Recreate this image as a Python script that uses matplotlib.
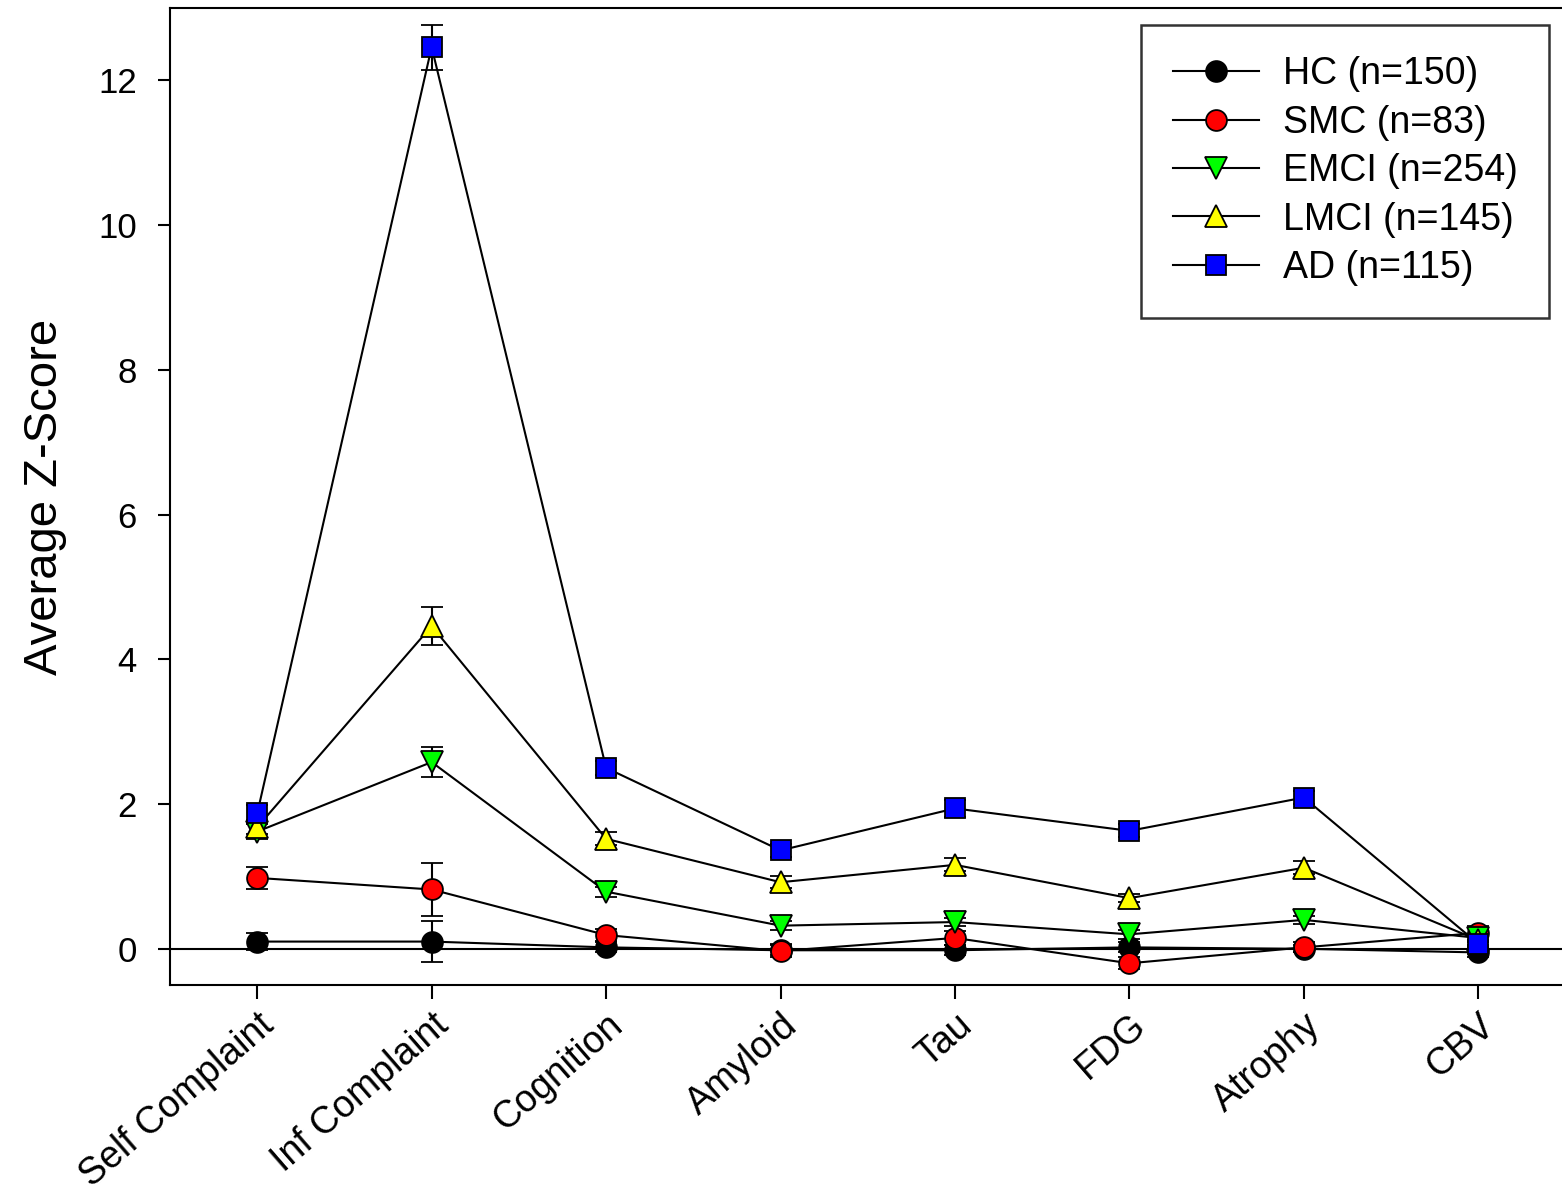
import numpy as np
import matplotlib.pyplot as plt
import matplotlib.transforms as mtransforms
from matplotlib.lines import Line2D

plt.rcParams['font.family'] = ['Liberation Sans', 'DejaVu Sans']

# --- data ---
categories = ["Self Complaint", "Inf Complaint", "Cognition", "Amyloid",
              "Tau", "FDG", "Atrophy", "CBV"]

groups = ["HC (n=150)", "SMC (n=83)", "EMCI (n=254)", "LMCI (n=145)", "AD (n=115)"]

hc_mean = [0.10, 0.10, 0.02, -0.02, -0.02, 0.02, 0.00, -0.05]
smc_mean = [0.98, 0.82, 0.19, -0.03, 0.15, -0.20, 0.02, 0.22]
emci_mean = [1.62, 2.58, 0.79, 0.32, 0.37, 0.20, 0.40, 0.15]
lmci_mean = [1.68, 4.46, 1.52, 0.92, 1.16, 0.70, 1.12, 0.12]
ad_mean = [1.87, 12.46, 2.50, 1.36, 1.94, 1.63, 2.09, 0.07]

hc_err = [0.12, 0.28, 0.07, 0.07, 0.07, 0.07, 0.05, 0.07]
smc_err = [0.15, 0.36, 0.08, 0.09, 0.10, 0.08, 0.07, 0.10]
emci_err = [0.10, 0.21, 0.07, 0.06, 0.06, 0.06, 0.06, 0.06]
lmci_err = [0.10, 0.26, 0.09, 0.08, 0.09, 0.06, 0.09, 0.07]
ad_err = [0.12, 0.31, 0.10, 0.09, 0.12, 0.09, 0.09, 0.10]

means = [hc_mean, smc_mean, emci_mean, lmci_mean, ad_mean]
errs = [hc_err, smc_err, emci_err, lmci_err, ad_err]
colors = ["#000000", "#ff0000", "#00ff00", "#ffff00", "#0000ff"]
markers = ["o", "o", "v", "^", "s"]
msizes = [15, 15, 16, 16, 14]

fig = plt.figure(figsize=(15.62, 11.92), dpi=100)
ax = fig.add_axes([170 / 1562, 1 - 985 / 1192, 1392 / 1562, 977 / 1192])

x = np.arange(len(categories))
ax.axhline(0, color="black", lw=1.5, zorder=1)

handles = []
for i in range(len(groups)):
    ax.errorbar(x, means[i], yerr=errs[i], color="black", lw=1.5,
                elinewidth=1.5, capsize=8, capthick=1.5,
                marker=markers[i], markersize=msizes[i],
                markerfacecolor=colors[i], markeredgecolor="black",
                markeredgewidth=1.3, zorder=2 + i)
    handles.append(Line2D([], [], color="black", lw=1.5, marker=markers[i],
                          markersize=msizes[i], markerfacecolor=colors[i],
                          markeredgecolor="black", markeredgewidth=1.3,
                          label=groups[i]))

ax.set_xlim(-0.5, 7.48)
ax.set_ylim(-0.5, 13.0)
ax.set_yticks([0, 2, 4, 6, 8, 10, 12])
ax.set_xticks(x)
ax.set_xticklabels(categories, rotation=41, ha="right", va="top",
                   rotation_mode="anchor", fontsize=27)
offset = mtransforms.ScaledTranslation(12 / 100, 0, fig.dpi_scale_trans)
for lab in ax.get_xticklabels():
    lab.set_transform(lab.get_transform() + offset)

ax.tick_params(axis="y", direction="out", length=9, width=1.5,
               labelsize=25, pad=15)
ax.tick_params(axis="x", direction="out", length=10, width=1.5, pad=6)
for s in ["left", "bottom", "top"]:
    ax.spines[s].set_linewidth(1.5)
ax.spines["right"].set_visible(False)

ax.set_ylabel("Average Z-Score", fontsize=34, labelpad=22)

leg = ax.legend(handles=handles, loc="upper right",
                bbox_to_anchor=(0.991, 0.983), fontsize=27,
                frameon=True, fancybox=False, edgecolor="black",
                handlelength=2.3, handletextpad=0.62, labelspacing=0.33,
                borderpad=0.85, borderaxespad=0)
leg.get_frame().set_linewidth(1.8)

fig.savefig("out.png", dpi=100)
